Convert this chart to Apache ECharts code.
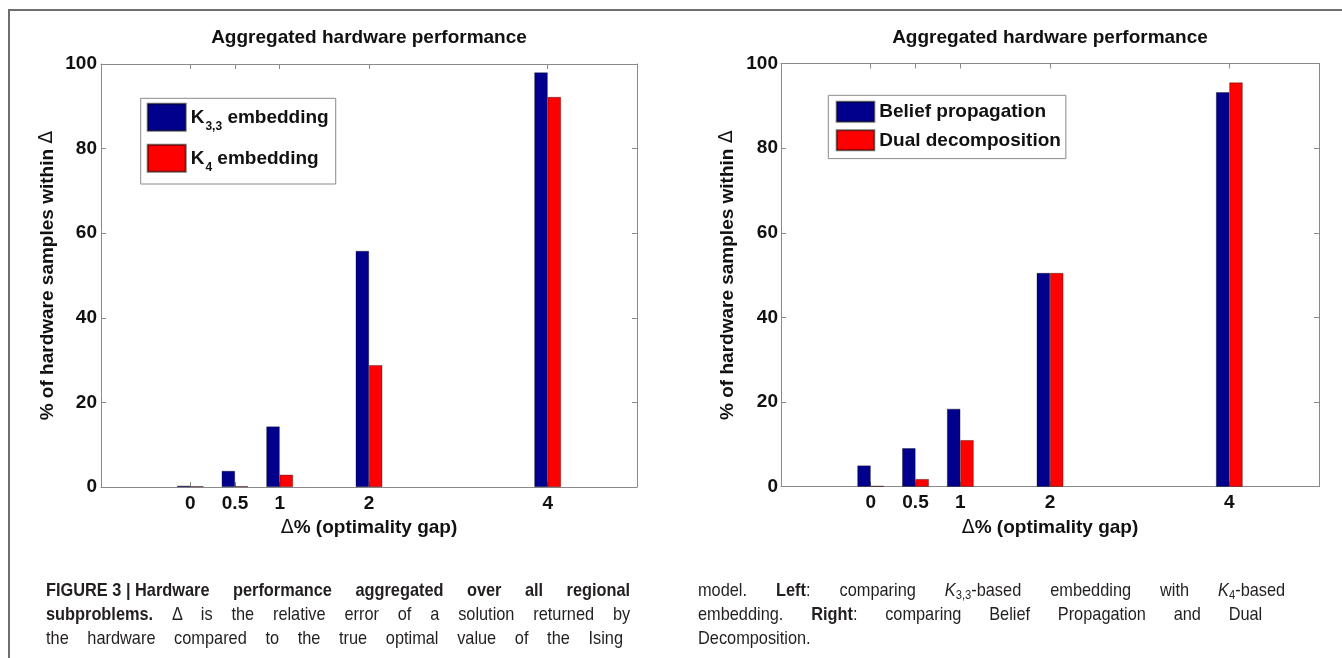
<!DOCTYPE html>
<html><head><meta charset="utf-8">
<script src="https://cdn.jsdelivr.net/npm/echarts@6/dist/echarts.min.js"></script>
<style>
html,body{margin:0;padding:0;width:1342px;height:658px;overflow:hidden;background:#fff;}
#chart{position:absolute;left:0;top:0;width:1342px;height:658px;}
#frame{position:absolute;left:8px;top:9px;width:1400px;height:700px;border-left:2px solid #6e6e6e;border-top:2px solid #6e6e6e;pointer-events:none;}
.cap{position:absolute;font-family:"Liberation Sans",Arial,Helvetica,sans-serif;font-size:19px;line-height:24px;color:#231f20;white-space:nowrap;transform-origin:0 0;}
.cap sub{font-size:13px;vertical-align:-3px;line-height:0;}
.ns{word-spacing:0 !important;}
</style></head>
<body>
<div id="chart"></div>
<div id="frame"></div>
<div class="cap" style="left:46px;top:578px" data-w="584"><b><span class="ns">FIGURE 3 | Hardware</span> performance aggregated over all regional</b></div>
<div class="cap" style="left:46px;top:602px" data-w="584"><b>subproblems.</b> Δ is the relative error of a solution returned by</div>
<div class="cap" style="left:46px;top:626px" data-w="577">the hardware compared to the true optimal value of the Ising</div>
<div class="cap" style="left:698px;top:578px" data-w="587">model. <b>Left</b>: comparing <i>K</i><sub>3,3</sub>-based embedding with <i>K</i><sub>4</sub>-based</div>
<div class="cap" style="left:698px;top:602px" data-w="564">embedding. <b>Right</b>: comparing Belief Propagation and Dual</div>
<div class="cap" style="left:698px;top:626px">Decomposition.</div>
<script>
// ---- data ----
const xTicks = [0, 0.5, 1, 2, 4];
const leftK33 = [0.3, 3.8, 14.3, 55.8, 98.0];
const leftK4 = [0.2, 0.2, 2.9, 28.8, 92.2];
const rightBP = [5.0, 9.1, 18.4, 50.5, 93.2];
const rightDD = [0.2, 1.8, 11.0, 50.5, 95.5];
const titleText = 'Aggregated hardware performance';
const legendLeft = ['K3,3 embedding', 'K4 embedding'];
const legendRight = ['Belief propagation', 'Dual decomposition'];
const xName = '{d|Δ}% (optimality gap)';
const yName = '% of hardware samples within {d|Δ}';

// ---- caption: condensed + justified ----
const CAP_SCALE = 0.86;
document.querySelectorAll('.cap').forEach(el => {
  el.style.transform = 'scaleX(' + CAP_SCALE + ')';
  if (!el.dataset.w) return;
  const target = +el.dataset.w / CAP_SCALE;
  const w = el.offsetWidth;
  let spaces = (el.textContent.match(/ /g) || []).length;
  el.querySelectorAll('.ns').forEach(n => { spaces -= (n.textContent.match(/ /g) || []).length; });
  const extra = target - w;
  if (extra >= 0) el.style.wordSpacing = (extra / spaces) + 'px';
  else el.style.transform = 'scaleX(' + (CAP_SCALE * target / w) + ')';
});

const FF = '"Liberation Sans", Arial, Helvetica, sans-serif';
const AX = '#8a8a8a';
const BLUE = '#00008c';
const RED = '#ff0000';
const TXT = '#111111';

const grids = [
  {left: 101, top: 64, width: 536, height: 423},
  {left: 781, top: 63.5, width: 538, height: 423.2}
];

const xAxis = [], yAxis = [];
grids.forEach((g, gi) => {
  const ls = {color: AX, width: 1};
  xAxis.push({
    gridIndex: gi, type: 'value', min: -1, max: 5, position: 'bottom',
    axisLine: {show: true, onZero: false, lineStyle: ls},
    axisTick: {show: true, inside: true, length: 5, customValues: xTicks, lineStyle: ls},
    axisLabel: {show: true, customValues: xTicks, margin: 7, fontSize: 19, fontWeight: 'bold', color: TXT, fontFamily: FF, lineHeight: 19},
    splitLine: {show: false},
    name: xName, nameLocation: 'middle', nameGap: 31.5, nameMoveOverlap: false,
    nameTextStyle: {fontSize: 19, fontWeight: 'bold', color: TXT, fontFamily: FF, lineHeight: 19,
      rich: {d: {fontSize: 19, fontWeight: 'normal', color: TXT, fontFamily: 'DejaVu Sans', lineHeight: 19}}}
  });
  xAxis.push({
    gridIndex: gi, type: 'value', min: -1, max: 5, position: 'top',
    axisLine: {show: true, onZero: false, lineStyle: ls},
    axisTick: {show: true, inside: true, length: 5, customValues: xTicks, lineStyle: ls},
    axisLabel: {show: false}, splitLine: {show: false}
  });
  yAxis.push({
    gridIndex: gi, type: 'value', min: 0, max: 100, interval: 20, position: 'left',
    axisLine: {show: true, onZero: false, lineStyle: ls},
    axisTick: {show: true, inside: true, length: 5, lineStyle: ls},
    axisLabel: {show: true, margin: gi === 0 ? 4 : 3, fontSize: 19, fontWeight: 'bold', color: TXT, fontFamily: FF},
    splitLine: {show: false},
    name: yName, nameLocation: 'middle', nameGap: 44, nameMoveOverlap: false,
    nameTextStyle: {fontSize: 19, fontWeight: 'bold', color: TXT, fontFamily: FF, lineHeight: 19,
      rich: {d: {fontSize: 19, fontWeight: 'normal', color: TXT, fontFamily: 'DejaVu Sans', lineHeight: 19}}}
  });
  yAxis.push({
    gridIndex: gi, type: 'value', min: 0, max: 100, interval: 20, position: 'right',
    axisLine: {show: true, onZero: false, lineStyle: ls},
    axisTick: {show: true, inside: true, length: 5, lineStyle: ls},
    axisLabel: {show: false}, splitLine: {show: false}
  });
});

function barSeries(name, vals, gi, color) {
  return {
    name: name, type: 'bar', xAxisIndex: gi * 2, yAxisIndex: gi * 2,
    data: xTicks.map((x, i) => [x, vals[i]]),
    barWidth: 13.3, barGap: '0%',
    itemStyle: {color: color, borderColor: 'rgba(0,0,0,0.55)', borderWidth: 0.6},
    emphasis: {disabled: true}
  };
}

const legendTextBase = {fontSize: 19, fontWeight: 'bold', color: TXT, fontFamily: FF};

const option = {
  animation: false,
  backgroundColor: '#ffffff',
  grid: grids,
  xAxis: xAxis,
  yAxis: yAxis,
  legend: [
    {
      data: legendLeft, orient: 'vertical', left: 140.7, top: 98.3,
      padding: [4.5, 7, 4.2, 6], itemWidth: 38, itemHeight: 27, itemGap: 5, itemTextGap: 4,
      backgroundColor: '#fff', borderColor: AX, borderWidth: 1, borderRadius: 0,
      selectedMode: false, icon: 'rect',
      formatter: function (name) {
        const m = name.match(/^K([\d,]+) (.*)$/);
        return '{m|K}{s|' + m[1] + '}{m| ' + m[2] + '}';
      },
      textStyle: Object.assign({}, legendTextBase, {
        rich: {
          m: Object.assign({}, legendTextBase, {lineHeight: 19, padding: [0, 0, 12, 0], verticalAlign: 'top'}),
          s: Object.assign({}, legendTextBase, {fontSize: 12, lineHeight: 13, padding: [13, 0, 0, 1], verticalAlign: 'top'})
        }
      })
    },
    {
      data: legendRight, orient: 'vertical', left: 828.3, top: 95.3,
      padding: [5.4, 5, 7.3, 7.4], itemWidth: 37.6, itemHeight: 20, itemGap: 6.6, itemTextGap: 4,
      backgroundColor: '#fff', borderColor: AX, borderWidth: 1, borderRadius: 0,
      selectedMode: false, icon: 'rect',
      textStyle: Object.assign({}, legendTextBase, {lineHeight: 20})
    }
  ],
  graphic: [
    {type: 'text', x: 369, y: 38, silent: true,
      style: {text: titleText, fontSize: 19, fontWeight: 'bold', fontFamily: FF, fill: TXT, align: 'center', verticalAlign: 'middle'}},
    {type: 'text', x: 1050, y: 38, silent: true,
      style: {text: titleText, fontSize: 19, fontWeight: 'bold', fontFamily: FF, fill: TXT, align: 'center', verticalAlign: 'middle'}}
  ],
  series: [
    barSeries(legendLeft[0], leftK33, 0, BLUE),
    barSeries(legendLeft[1], leftK4, 0, RED),
    barSeries(legendRight[0], rightBP, 1, BLUE),
    barSeries(legendRight[1], rightDD, 1, RED)
  ]
};

const chart = echarts.init(document.getElementById('chart'), null, {renderer: 'canvas'});
chart.setOption(option);
</script>
</body></html>
